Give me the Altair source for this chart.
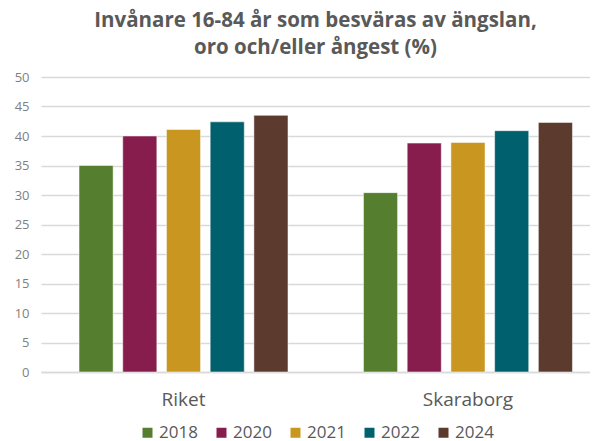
import altair as alt
import pandas as pd

groups = ["Riket", "Skaraborg"]
years = ["2018", "2020", "2021", "2022", "2024"]
riket = [35.0, 40.0, 41.1, 42.4, 43.5]
skaraborg = [30.4, 38.8, 38.9, 40.9, 42.3]
colors = ["#557F2F", "#861D4D", "#C9961F", "#01606E", "#5C3A2E"]

rows = []
for g, vals in zip(groups, [riket, skaraborg]):
    for y, v in zip(years, vals):
        rows.append({"Område": g, "År": y, "Andel": v})
df = pd.DataFrame(rows)

FONT = "Open Sans"

chart = alt.Chart(df).mark_bar(stroke="white", strokeOpacity=0.5, strokeWidth=1).encode(
    x=alt.X("Område:N", sort=groups, title=None,
            scale=alt.Scale(paddingInner=0.25, paddingOuter=0.09, align=0.7),
            axis=alt.Axis(labelAngle=0, ticks=False, domain=True, domainColor="#d9d9d9",
                          domainWidth=1.5, labelFont=FONT, labelFontSize=19,
                          labelColor="#595959", labelPadding=18)),
    xOffset=alt.XOffset("År:N", sort=years,
                        scale=alt.Scale(paddingInner=0.22, paddingOuter=0.05)),
    y=alt.Y("Andel:Q", title=None,
            scale=alt.Scale(domain=[0, 50]),
            axis=alt.Axis(values=list(range(0, 51, 5)), ticks=False, domain=False,
                          gridColor="#d9d9d9", gridWidth=1.5, labelFont=FONT,
                          labelFontSize=13, labelColor="#7f7f7f", labelPadding=12)),
    color=alt.Color("År:N", sort=years, scale=alt.Scale(domain=years, range=colors),
                    legend=alt.Legend(title=None, orient="none", direction="horizontal",
                                      legendX=98, legendY=347,
                                      symbolType="square", symbolSize=100,
                                      symbolStrokeWidth=0, labelFont=FONT,
                                      labelFontSize=17, labelColor="#595959",
                                      labelOffset=3, columnPadding=15, symbolOffset=0)),
).properties(
    width=549,
    height=295,
    title=alt.Title(["Invånare 16-84 år som besväras av ängslan,", "oro och/eller ångest (%)"],
                    font=FONT, fontSize=20.5, fontWeight="bold", color="#595959",
                    anchor="middle", lineHeight=27, offset=13),
    autosize=alt.AutoSizeParams(type="none"),
    padding={"left": 33, "top": 69, "right": 0, "bottom": 72},
).configure_view(stroke=None)

chart.save("out.html", embed_options={"renderer": "svg", "actions": False})
